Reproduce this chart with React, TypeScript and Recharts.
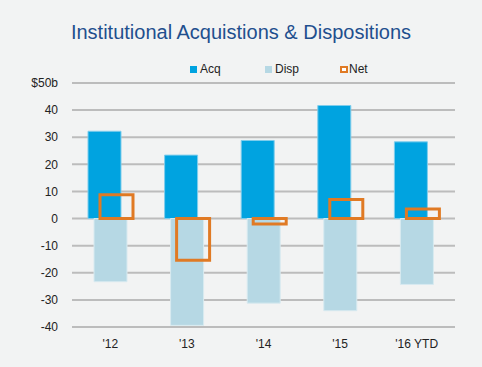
import React from 'react';
import { ComposedChart, Bar, XAxis, YAxis, CartesianGrid } from 'recharts';

const years = ["'12", "'13", "'14", "'15", "'16 YTD"];
const acq = [32.2, 23.4, 28.8, 41.7, 28.3];
const disp = [-23.3, -39.4, -31.2, -34.0, -24.3];
const net = [8.8, -15.4, -2.0, 7.0, 3.5];
const yTicks = [-40, -30, -20, -10, 0, 10, 20, 30, 40, 50];

const FONT = '"Liberation Sans", Arial, sans-serif';

const data = years.map((year, i) => ({ year, Acq: acq[i], Disp: disp[i], Net: net[i] }));

// legend drawn as html so it does not push the plot area down
const ChartLegend = () => {
  const items = [
    { name: 'Acq', box: <span style={{ display: 'inline-block', width: 7, height: 7, background: '#00a3e0', marginRight: 3 }} /> },
    { name: 'Disp', box: <span style={{ display: 'inline-block', width: 7, height: 7, background: '#b6d8e4', marginRight: 3 }} /> },
    {
      name: 'Net',
      box: (
        <span style={{ display: 'inline-block', width: 4, height: 3, border: '2.5px solid #e07a24', background: '#fff', marginRight: 1 }} />
      ),
    },
  ];
  return (
    <div
      style={{
        position: 'absolute',
        top: 62,
        left: 190,
        display: 'flex',
        fontFamily: FONT,
        fontSize: 12,
        color: '#222',
      }}
    >
      {items.map(it => (
        <div key={it.name} style={{ width: 75, display: 'flex', alignItems: 'center' }}>
          {it.box}
          <span>{it.name}</span>
        </div>
      ))}
    </div>
  );
};

const App: React.FC = () => {
  return (
    <div style={{ position: 'absolute', left: 0, top: 0, width: 482, height: 367, background: '#f2f3f3' }}>
      <div
        style={{
          position: 'absolute',
          top: 21,
          left: 0,
          width: 482,
          textAlign: 'center',
          fontFamily: FONT,
          fontSize: 20,
          color: '#1f4f8e',
        }}
      >
        Institutional Acquistions &amp; Dispositions
      </div>
      <ChartLegend />
      <ComposedChart
        width={482}
        height={367}
        data={data}
        margin={{ top: 83, right: 27, left: 0, bottom: 10 }}
        barSize={33}
        barGap={-27}
        style={{ position: 'absolute', left: 0, top: 0 }}
      >
        <CartesianGrid vertical={false} stroke="#bcbcbc" strokeWidth={2} />
        <XAxis
          dataKey="year"
          axisLine={false}
          tickLine={false}
          tickSize={0}
          tickMargin={12}
          height={30}
          tick={{ fill: '#222', fontSize: 12, fontFamily: FONT }}
        />
        <YAxis
          domain={[-40, 50]}
          ticks={yTicks}
          axisLine={false}
          tickLine={false}
          tickSize={0}
          tickMargin={14}
          width={72}
          interval={0}
          tickFormatter={(v: number) => (v === 50 ? '$50b' : String(v))}
          tick={{ fill: '#222', fontSize: 12, fontFamily: FONT }}
        />
        <Bar dataKey="Acq" fill="#00a3e0" stroke="#7fcdec" strokeWidth={1} isAnimationActive={false} />
        <Bar dataKey="Disp" fill="#b6d8e4" stroke="#d8eaf0" strokeWidth={1} isAnimationActive={false} />
        <Bar dataKey="Net" fill="none" stroke="#e07a24" strokeWidth={3} isAnimationActive={false} />
      </ComposedChart>
    </div>
  );
};

export default App;
